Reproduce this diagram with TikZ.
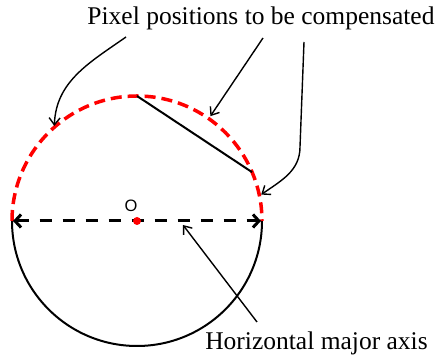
\documentclass[tikz,border=0pt]{standalone}
\usepackage{fontspec}
\setmainfont{Liberation Serif}
\setsansfont{Liberation Sans}
\usetikzlibrary{arrows.meta,positioning,calc}
\definecolor{pxred}{HTML}{FF0000}

\begin{document}
\begin{tikzpicture}[x=1pt,y=1pt,
  pointer/.style={-{Straight Barb[length=7pt,width=11pt]},line width=1.4pt},
  lbl/.style={inner sep=0pt,font=\fontsize{25.5}{28}\selectfont}]
  \useasboundingbox (0,0) rectangle (437,358);
  \coordinate (O) at (137,137);
  % lower half solid, upper half dashed red
  \draw[line width=2pt] ($(O)+(180:125)$) arc (180:360:125);
  \draw[pxred,line width=3.5pt,dash pattern=on 11pt off 6pt] ($(O)+(180:125)$) arc (180:0:125);
  \coordinate (top) at ($(O)+(90:125)$);
  \coordinate (rim) at ($(O)+(23:125)$);
  \draw[line width=2pt] (top) -- (rim);
  % major axis
  \coordinate (axl) at ($(O)+(180:124)$);
  \coordinate (axr) at ($(O)+(0:124)$);
  \draw[{Straight Barb[length=6pt,width=13pt]}-{Straight Barb[length=6pt,width=13pt]},line width=3pt,dash pattern=on 12pt off 11pt] (axl) -- (axr);
  \fill[pxred] (O) circle (4pt);
  \node[font=\sffamily\fontsize{16.5}{18}\selectfont,inner sep=0pt] (olbl) at (131,152) {O};
  % labels
  \node[lbl,anchor=base] (pixtxt) at (261,333) {Pixel positions to be compensated};
  \node[lbl,anchor=base] (axtxt) at (316.5,8) {Horizontal major axis};
  \coordinate (s1) at (126,321);
  \coordinate (s2) at (263,320);
  \coordinate (s3) at (304,316);
  \coordinate (s4) at (257,36);
  \coordinate (t1) at ($(O)+(131:126)$);
  \coordinate (t2) at ($(O)+(55:128)$);
  \coordinate (t3) at ($(O)+(12:127)$);
  \coordinate (t4) at (183,133);
  \draw[pointer] (s1) to[out=215,in=88] (t1);
  \draw[pointer] (s2) -- (t2);
  \draw[pointer] (s3) -- (300,211) to[out=-90,in=35] (t3);
  \draw[pointer] (s4) -- (t4);
\end{tikzpicture}
\end{document}
